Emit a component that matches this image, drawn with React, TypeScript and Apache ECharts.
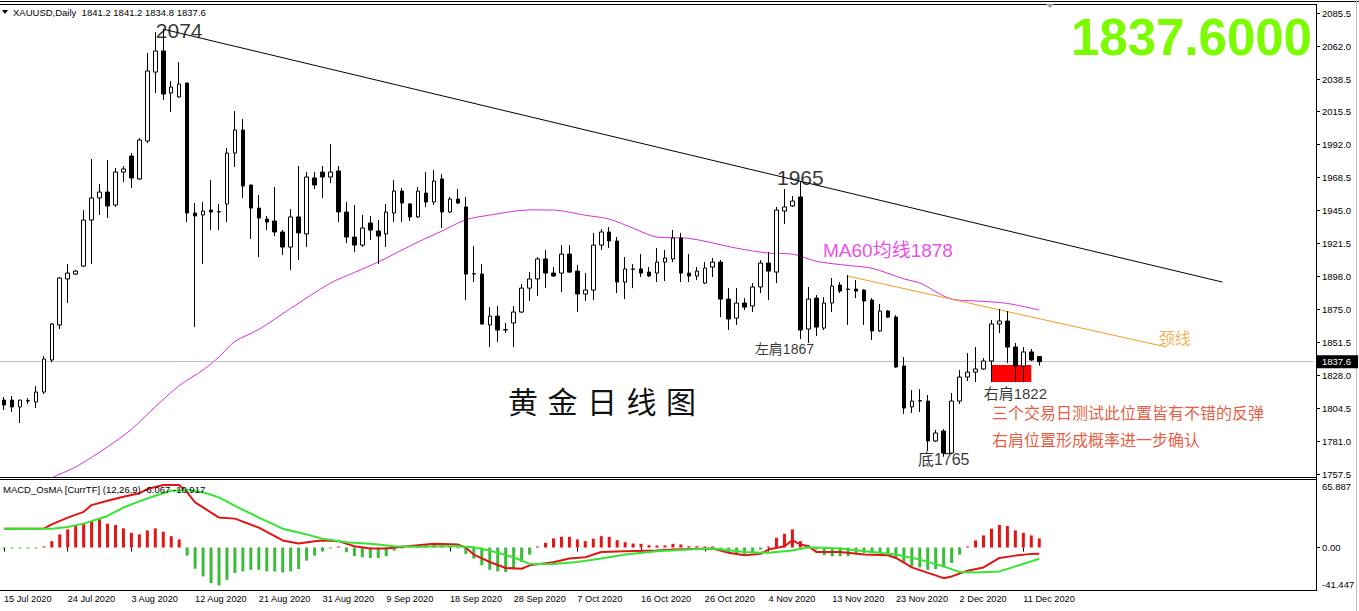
import React, { useEffect, useRef } from "react";
import * as echarts from "echarts";

// ---------- data ----------
const dateLabels = [
  "15 Jul 2020", "24 Jul 2020", "3 Aug 2020", "12 Aug 2020", "21 Aug 2020", "31 Aug 2020",
  "9 Sep 2020", "18 Sep 2020", "28 Sep 2020", "7 Oct 2020", "16 Oct 2020", "26 Oct 2020",
  "4 Nov 2020", "13 Nov 2020", "23 Nov 2020", "2 Dec 2020", "11 Dec 2020",
];
const BARS_PER_LABEL = 8;
const SLOT_COUNT = 165;

const priceTicks = [1757.5, 1781.0, 1804.5, 1828.0, 1851.5, 1875.0, 1898.0, 1921.5, 1945.0, 1968.5, 1992.0, 2015.5, 2038.5, 2062.0, 2085.5];
const priceMin = 1755.6;
const priceMax = 2091.2;

const macdMin = -41.447;
const macdMax = 65.887;
const macdLabelTexts = ["65.887", "0.00", "-41.447"];
const macdLabelAt = [59.1, 0, -35.6];

// [open, high, low, close]
const ohlc: number[][] = [
  [1810.3, 1812.4, 1803.2, 1806.8], [1810.3, 1813.2, 1801.8, 1805.4], [1805.4, 1810.5, 1794.0, 1810.3], [1809.6, 1811.7, 1807.5, 1809.9],
  [1808.9, 1820.3, 1804.6, 1816.0], [1816.0, 1841.6, 1814.6, 1839.5], [1838.8, 1865.1, 1837.3, 1864.4], [1863.7, 1897.8, 1860.8, 1897.1],
  [1896.4, 1907.0, 1879.3, 1900.6], [1899.9, 1902.8, 1899.2, 1902.0], [1905.6, 1945.4, 1905.0, 1938.3], [1938.3, 1981.7, 1907.0, 1954.0],
  [1954.0, 1963.9, 1941.9, 1958.2], [1958.2, 1981.0, 1939.7, 1948.3], [1949.0, 1975.3, 1947.6, 1972.4], [1972.4, 1976.7, 1965.3, 1974.6],
  [1983.8, 1985.9, 1961.1, 1968.2], [1967.5, 1996.6, 1966.7, 1995.2], [1994.5, 2057.1, 1993.1, 2044.3], [2043.5, 2072.0, 2028.6, 2058.5],
  [2058.5, 2074.0, 2023.6, 2027.9], [2028.6, 2037.1, 2015.1, 2032.9], [2025.8, 2050.6, 2025.1, 2035.0], [2035.7, 2036.0, 1936.9, 1943.3],
  [1943.3, 1950.4, 1862.2, 1941.2], [1941.9, 1951.1, 1907.0, 1944.7], [1945.4, 1966.7, 1931.2, 1944.0], [1944.0, 1949.7, 1931.2, 1944.3],
  [1949.7, 1989.5, 1936.9, 1985.9], [1985.9, 2015.8, 1976.0, 2002.3], [2002.3, 2010.1, 1953.9, 1962.5], [1963.2, 1963.5, 1924.8, 1946.8],
  [1946.8, 1956.1, 1912.0, 1939.7], [1939.0, 1941.2, 1931.2, 1936.9], [1937.6, 1961.8, 1926.9, 1929.8], [1929.8, 1931.2, 1913.4, 1919.1],
  [1919.1, 1946.1, 1902.8, 1940.5], [1940.5, 1976.7, 1909.9, 1929.1], [1928.4, 1972.4, 1919.1, 1968.9], [1968.2, 1972.4, 1960.4, 1963.2],
  [1972.4, 1976.7, 1953.9, 1968.9], [1968.9, 1992.3, 1964.6, 1972.4], [1973.2, 1976.7, 1936.9, 1944.0], [1944.0, 1951.1, 1921.9, 1926.2],
  [1926.2, 1949.0, 1915.5, 1920.5], [1920.5, 1941.9, 1919.1, 1932.6], [1936.2, 1941.2, 1924.1, 1931.2], [1930.5, 1938.3, 1907.0, 1926.9],
  [1928.4, 1949.7, 1919.1, 1944.0], [1943.3, 1966.7, 1936.9, 1958.9], [1958.9, 1961.1, 1936.9, 1950.4], [1949.7, 1950.4, 1937.6, 1940.5],
  [1940.5, 1961.8, 1939.7, 1958.9], [1957.5, 1972.4, 1947.6, 1951.1], [1951.1, 1973.9, 1949.0, 1966.0], [1967.5, 1971.0, 1932.6, 1944.0],
  [1944.0, 1954.7, 1943.3, 1953.2], [1953.2, 1960.4, 1949.7, 1950.4], [1947.6, 1954.7, 1881.4, 1899.9], [1899.9, 1919.8, 1894.2, 1900.2],
  [1899.9, 1907.0, 1863.7, 1864.4], [1863.7, 1876.4, 1848.0, 1870.0], [1870.0, 1877.2, 1851.6, 1860.1], [1860.1, 1865.1, 1857.9, 1860.4],
  [1865.1, 1877.2, 1848.0, 1872.9], [1872.9, 1892.8, 1872.2, 1889.9], [1889.9, 1901.3, 1880.7, 1896.4], [1896.4, 1912.0, 1884.3, 1910.6],
  [1910.6, 1917.0, 1889.9, 1900.6], [1900.6, 1904.9, 1897.8, 1898.5], [1900.6, 1920.5, 1887.1, 1914.1], [1914.1, 1920.5, 1900.6, 1901.3],
  [1902.0, 1906.3, 1872.9, 1885.7], [1885.7, 1900.6, 1880.7, 1888.5], [1888.5, 1929.1, 1881.4, 1920.5], [1920.5, 1931.9, 1917.0, 1929.8],
  [1929.8, 1933.3, 1918.4, 1923.4], [1923.4, 1926.2, 1886.4, 1894.2], [1894.2, 1912.0, 1882.1, 1903.5], [1903.5, 1907.0, 1889.9, 1903.3],
  [1903.5, 1914.1, 1897.8, 1900.6], [1901.3, 1904.9, 1897.8, 1898.5], [1900.6, 1918.4, 1894.2, 1908.4], [1908.4, 1917.0, 1894.9, 1911.3],
  [1910.6, 1931.2, 1908.4, 1925.5], [1925.5, 1929.1, 1894.2, 1900.6], [1900.6, 1914.1, 1894.2, 1898.5], [1898.5, 1904.9, 1895.6, 1902.0],
  [1893.5, 1908.4, 1893.0, 1904.2], [1904.9, 1911.3, 1897.8, 1908.4], [1908.4, 1909.9, 1869.3, 1882.1], [1882.1, 1889.9, 1860.1, 1867.9],
  [1868.6, 1889.9, 1863.7, 1879.3], [1879.3, 1882.8, 1874.3, 1876.4], [1877.2, 1893.5, 1872.9, 1890.7], [1890.7, 1909.9, 1886.4, 1907.7],
  [1907.7, 1915.5, 1881.4, 1902.0], [1901.3, 1947.6, 1893.5, 1945.4], [1944.7, 1960.4, 1935.5, 1947.6], [1948.3, 1955.4, 1947.6, 1951.8],
  [1954.7, 1966.0, 1853.7, 1860.1], [1860.8, 1890.7, 1850.9, 1882.1], [1882.8, 1885.0, 1855.8, 1862.2], [1861.5, 1883.5, 1860.1, 1879.3],
  [1879.3, 1897.1, 1872.9, 1891.4], [1892.1, 1894.2, 1886.4, 1887.8], [1889.2, 1899.2, 1863.7, 1889.0], [1889.2, 1895.6, 1882.8, 1887.8],
  [1888.5, 1889.2, 1863.7, 1880.7], [1881.4, 1882.8, 1853.0, 1859.4], [1859.4, 1878.6, 1858.7, 1873.6], [1873.6, 1874.3, 1868.6, 1869.3],
  [1869.3, 1870.7, 1833.1, 1833.8], [1834.5, 1840.9, 1800.4, 1804.6], [1805.4, 1817.4, 1801.1, 1809.6], [1809.6, 1818.1, 1801.8, 1809.9],
  [1809.6, 1813.9, 1774.1, 1781.2], [1781.2, 1789.0, 1780.5, 1786.9], [1788.3, 1789.7, 1770.0, 1772.6], [1772.6, 1815.3, 1771.9, 1809.6],
  [1809.6, 1831.7, 1807.5, 1826.7], [1826.7, 1843.7, 1823.8, 1830.2], [1830.2, 1848.0, 1823.1, 1832.4], [1832.4, 1840.2, 1831.7, 1838.1],
  [1838.1, 1867.2, 1823.1, 1864.4], [1864.4, 1875.0, 1857.9, 1866.5], [1866.5, 1873.6, 1836.6, 1848.0], [1848.0, 1850.9, 1823.1, 1834.5],
  [1834.5, 1848.0, 1823.1, 1844.5], [1844.5, 1846.6, 1838.1, 1838.8], [1841.2, 1841.2, 1834.8, 1837.6],
];

// MA60 read at sampled bars: [bar index, price]
const ma60 = [
  [5, 1751], [6, 1755], [9, 1762.7], [13, 1777], [16, 1789.5], [19, 1805.5], [22, 1820.5], [25, 1831.7], [27, 1841],
  [29, 1852], [32, 1860.5], [36, 1875.5], [41, 1893.5], [44, 1901], [47, 1908.5], [52, 1922.7], [55, 1930.5],
  [58, 1938.5], [61, 1941.8], [66, 1945.5], [69, 1945.4], [73, 1941.7], [76, 1939], [79, 1932.5], [82, 1926.2],
  [86, 1925.3], [92, 1918.3], [96, 1914.8], [99, 1914.1], [102, 1909], [106, 1906], [109, 1904], [113, 1896.5],
  [115, 1893.5], [119, 1882.1], [122, 1880.8], [126, 1879], [130, 1874.3],
];

const trendLine = [[20, 2074], [153, 1894.2]];
const neckLine = [[106, 1898.4], [146, 1848]];
const lastPrice = 1837.6;
const shoulderZone = { from: 124, to: 129, high: 1835.2, low: 1823.1 };

// MACD (red), signal (green): [bar index, value]
const macdLine = [
  [0, 18.4], [5, 18.4], [6, 22.6], [8, 29.2], [10, 34.8], [11, 41.4], [13, 45.6], [15, 49.5], [17, 52.9], [18, 57.1],
  [20, 61], [22, 61], [23, 53.9], [24, 44], [27, 29.2], [29, 28.2], [32, 19.4], [35, 6.9], [37, 3.9], [39, 6.2],
  [40, 6.9], [42, 6.2], [44, 1.3], [46, -1], [48, -1], [50, 0.7], [52, 2.3], [54, 3.6], [57, 3.0], [58, -0.3],
  [59, -6.9], [61, -14.1], [63, -20], [65, -20.7], [66, -17.4], [69, -14.4], [71, -10.8], [73, -9.5], [75, -4.3],
  [78, -3.6], [82, -3], [84, -2], [89, -1], [91, -5.2], [93, -7.5], [95, -6.2], [96, -2], [98, 1.3], [99, 7],
  [100, 3], [101, 1.3], [102, -4.3], [105, -4.3], [108, -6.9], [111, -7.5], [112, -10.2], [114, -19.4],
  [118, -29.9], [119, -28.2], [121, -22.6], [123, -19.4], [125, -10.2], [127, -7.9], [129, -6.2], [130, -6.1],
];
const signalLine = [
  [0, 18.4], [6, 18.4], [8, 20], [10, 23.3], [13, 30.8], [15, 39], [17, 45], [19, 50.5], [21, 55.4], [23, 56.1],
  [25, 53.9], [27, 48.9], [29, 40.7], [32, 29.2], [35, 18.4], [38, 12.8], [40, 8.6], [43, 5.2], [46, 3.6],
  [49, 1.3], [52, 0.7], [55, 1.3], [57, 1.3], [59, 0.3], [61, -3], [64, -9.5], [66, -16], [69, -16], [72, -14.1],
  [75, -10.8], [78, -6.9], [82, -3.6], [86, -2], [89, -1], [93, -4.3], [96, -5.2], [99, -3], [101, 0.3],
  [105, -1], [109, -4.3], [112, -6.9], [115, -11.8], [118, -18.4], [120, -24], [122, -24.3], [125, -23.3],
  [127, -18.4], [130, -10.9],
];
const osma = [
  -0.5, -0.5, -0.5, -0.5, -0.5, 0.5, 6.2, 12.8, 17.7, 21, 23.3, 25.9, 27.6, 23.3, 22, 18.7, 14.4, 12.8, 16.7, 18.7,
  15.4, 11.1, 7.9, -7.9, -20.7, -28.2, -34.8, -37.1, -31.5, -24.9, -23.3, -21.7, -21.7, -23.3, -23.3, -24.3, -23.3, -21, -12.8, -7.9,
  -3.6, -0.5, 0.3, -4.6, -8.5, -9.5, -10.2, -10.2, -8.5, -3, -0.5, 0.5, 1.5, 2.5, 2.5, 2, 1, -0.5, -6.2, -10.8,
  -17.4, -21.7, -23.3, -24, -20, -14.1, -6.9, 0.3, 4.6, 8.9, 10.5, 10.5, 7.9, 6.2, 8.6, 11.1, 10.5, 7.2, 5.2, 3.9,
  3.6, 2.3, 2, 2, 3.6, 3, 1.3, 1.3, 1, 1, -0.5, -4.3, -6.2, -6.2, -5.2, -2, 0.5, 9.5, 13.5, 17.7,
  6.2, 2.3, -2, -7.5, -8.5, -8.5, -8.5, -5.2, -5.2, -5.2, -5.2, -6.2, -10.2, -14.1, -18.4, -19.4, -21.7, -21, -19.4, -15.1,
  -6.9, 0.5, 6.9, 11.8, 18.4, 22, 21, 16.7, 14.4, 11.8, 8.9,
];

// annotations: [text, bar index, price]
const annotations: [string, number, number][] = [
  ["2074", 21.75, 2073.4],
  ["1965", 100, 1968.2],
  ["左肩1867", 97.9, 1846.6],
  ["MA60均线1878", 110.9, 1917.0],
  ["颈线", 146.9, 1854.4],
  ["底1765", 118.1, 1767.7],
  ["右肩1822", 127.1, 1815.3],
];
const notes: [string, number, number][] = [
  ["三个交易日测试此位置皆有不错的反弹", 124, 1800.4],
  ["右肩位置形成概率进一步确认", 124, 1781.9],
];

const SMALL = "'Liberation Sans', Arial, sans-serif";
const SANS = "'Liberation Sans', 'Noto Sans CJK SC', sans-serif";

const annStyle: Record<string, { size: number; color: string }> = {
  "2074": { size: 21, color: "#000" },
  "1965": { size: 21, color: "#000" },
  "左肩1867": { size: 14, color: "#000" },
  "MA60均线1878": { size: 19, color: "#e619e6" },
  "颈线": { size: 16, color: "#f0a030" },
  "底1765": { size: 16, color: "#000" },
  "右肩1822": { size: 15, color: "#000" },
};

export default function App() {
  const ref = useRef<HTMLDivElement>(null);

  useEffect(() => {
    if (!ref.current) return;
    const chart = echarts.init(ref.current, null, { renderer: "svg" });
    const categories = Array.from({ length: SLOT_COUNT }, (_, i) => String(i));
    const showTick = (i: number) => i % BARS_PER_LABEL === 0 && i / BARS_PER_LABEL < dateLabels.length;
    const clear = "rgba(0,0,0,0)";

    const option: any = {
      animation: false,
      backgroundColor: "#fff",
      grid: [
        { left: -6, top: 5, width: 1320, height: 472 },
        { left: -6, top: 480, width: 1320, height: 110 },
      ],
      xAxis: [
        {
          type: "category", gridIndex: 0, data: categories,
          axisLine: { show: false }, axisTick: { show: false }, axisLabel: { show: false }, splitLine: { show: false },
        },
        {
          type: "category", gridIndex: 1, data: categories,
          axisLine: { show: false },
          axisTick: { show: true, alignWithLabel: true, interval: (i: number) => showTick(i), length: 4, lineStyle: { color: "#000" } },
          axisLabel: {
            interval: (i: number) => showTick(i),
            formatter: (_v: string, i: number) => dateLabels[i / BARS_PER_LABEL] ?? "",
            align: "left", margin: 4, fontSize: 9.2, color: "#000", fontFamily: SMALL,
          },
          splitLine: { show: false },
        },
      ],
      yAxis: [
        {
          type: "value", gridIndex: 0, position: "right", offset: 2, min: priceMin, max: priceMax,
          splitLine: { show: false }, axisLine: { show: false },
          axisTick: { show: true, length: 4, customValues: priceTicks, lineStyle: { color: "#000" } },
          axisLabel: { customValues: priceTicks, formatter: (v: number) => v.toFixed(1), margin: 6, fontSize: 9.5, color: "#000", fontFamily: SMALL },
        },
        {
          type: "value", gridIndex: 1, position: "right", offset: 2, min: macdMin, max: macdMax,
          splitLine: { show: false }, axisLine: { show: false },
          axisTick: { show: true, length: 4, customValues: [0], lineStyle: { color: "#000" } },
          axisLabel: {
            customValues: macdLabelAt,
            formatter: (v: number) => {
              let best = 0;
              macdLabelAt.forEach((p, k) => { if (Math.abs(p - v) < Math.abs(macdLabelAt[best] - v)) best = k; });
              return macdLabelTexts[best];
            },
            margin: 6, fontSize: 9.5, color: "#000", fontFamily: SMALL,
          },
        },
      ],
      series: [
        {
          type: "line", xAxisIndex: 0, yAxisIndex: 0, z: 1, silent: true, symbol: "none",
          data: [[shoulderZone.from, shoulderZone.high], [shoulderZone.to, shoulderZone.low]],
          lineStyle: { opacity: 0 },
          markArea: {
            silent: true,
            itemStyle: { color: "#ff0000", opacity: 1 },
            data: [[{ coord: [shoulderZone.from, shoulderZone.high] }, { coord: [shoulderZone.to, shoulderZone.low] }]],
          },
          markLine: {
            silent: true, symbol: ["none", "none"],
            lineStyle: { color: "#c0c0c0", width: 1, type: "solid" },
            data: [{ yAxis: lastPrice }],
            label: {
              show: true, position: "end", distance: 3, formatter: lastPrice.toFixed(1),
              backgroundColor: "#000", color: "#fff", padding: [2, 7, 1, 5], fontSize: 9.5, fontFamily: SMALL,
            },
          },
        },
        {
          type: "line", xAxisIndex: 0, yAxisIndex: 0, z: 2, data: ma60, symbol: "none", smooth: 0.3,
          lineStyle: { color: "#d62fd6", width: 1 },
        },
        {
          type: "line", xAxisIndex: 0, yAxisIndex: 0, z: 2, data: trendLine, symbol: "none",
          lineStyle: { color: "#000", width: 1 },
        },
        {
          type: "line", xAxisIndex: 0, yAxisIndex: 0, z: 2, data: neckLine, symbol: "none",
          lineStyle: { color: "#f39c22", width: 1 },
        },
        {
          type: "candlestick", xAxisIndex: 0, yAxisIndex: 0, z: 5, barWidth: 4,
          data: ohlc.map(([o, h, l, c]) => [o, c, l, h]),
          itemStyle: { color: "#fff", color0: "#000", borderColor: "#000", borderColor0: "#000", borderWidth: 1 },
        },
        {
          type: "scatter", xAxisIndex: 0, yAxisIndex: 0, z: 6, symbolSize: 1, silent: true,
          itemStyle: { color: clear },
          data: annotations.map(([t, i, p]) => ({
            value: [i, p],
            label: {
              show: true, position: "inside", formatter: t,
              fontSize: annStyle[t].size, color: annStyle[t].color, fontFamily: SANS,
            },
          })),
        },
        {
          type: "scatter", xAxisIndex: 0, yAxisIndex: 0, z: 6, symbolSize: 1, silent: true,
          itemStyle: { color: clear },
          data: notes.map(([t, i, p]) => ({
            value: [i, p],
            label: { show: true, position: "right", distance: 0, formatter: t, fontSize: 16, color: "#e2300c", fontFamily: SANS },
          })),
        },
        {
          type: "bar", xAxisIndex: 1, yAxisIndex: 1, barWidth: 3, barMinHeight: 1,
          data: osma.map((v) => ({ value: v, itemStyle: { color: v >= 0 ? "#e81414" : "#3cba3c" } })),
        },
        {
          type: "line", xAxisIndex: 1, yAxisIndex: 1, data: macdLine, symbol: "none", z: 3,
          lineStyle: { color: "#e01515", width: 2 },
        },
        {
          type: "line", xAxisIndex: 1, yAxisIndex: 1, data: signalLine, symbol: "none", z: 3,
          lineStyle: { color: "#33e633", width: 2 },
        },
      ],
      graphic: [
        { type: "line", shape: { x1: 0, y1: 1.5, x2: 1359, y2: 1.5 }, style: { stroke: "#000", lineWidth: 1 } },
        { type: "line", shape: { x1: 0, y1: 4.5, x2: 1316.5, y2: 4.5 }, style: { stroke: "#000", lineWidth: 1 } },
        { type: "line", shape: { x1: 0, y1: 477.5, x2: 1316.5, y2: 477.5 }, style: { stroke: "#000", lineWidth: 1 } },
        { type: "line", shape: { x1: 0, y1: 479.5, x2: 1316.5, y2: 479.5 }, style: { stroke: "#000", lineWidth: 1 } },
        { type: "line", shape: { x1: 0, y1: 590.5, x2: 1316.5, y2: 590.5 }, style: { stroke: "#000", lineWidth: 1 } },
        { type: "line", shape: { x1: 1316.5, y1: 4, x2: 1316.5, y2: 591 }, style: { stroke: "#000", lineWidth: 1 } },
        { type: "line", shape: { x1: 1356.5, y1: 0, x2: 1356.5, y2: 611 }, style: { stroke: "#bdbdbd", lineWidth: 1 } },
        { type: "polygon", shape: { points: [[1046, 4], [1054, 4], [1050, 8]] }, style: { fill: "#a0a0a0" } },
        { type: "polygon", shape: { points: [[2, 10], [8, 10], [5, 14]] }, style: { fill: "#000" } },
        {
          type: "text", x: 13, y: 12,
          style: { text: "XAUUSD,Daily  1841.2 1841.2 1834.8 1837.6", fill: "#000", font: `9.5px ${SMALL}`, verticalAlign: "middle" },
        },
        {
          type: "text", x: 3, y: 489, z: 10,
          style: { text: "MACD_OsMA [CurrTF] (12,26,9) -6.067 -10.917", fill: "#000", font: `9.5px ${SMALL}`, verticalAlign: "middle" },
        },
        {
          type: "text", x: 1312, y: 37,
          style: { text: "1837.6000", fill: "#7cfc00", font: `bold 51px 'Liberation Sans', Arial, sans-serif`, align: "right", verticalAlign: "middle" },
        },
        {
          type: "text", x: 602, y: 402,
          style: { text: "黄 金 日 线 图", fill: "#111", font: `30px 'DejaVu Sans', 'Noto Sans CJK SC', sans-serif`, align: "center", verticalAlign: "middle" },
        },
      ],
    };

    chart.setOption(option);
    return () => chart.dispose();
  }, []);

  return (
    <div
      ref={ref}
      style={{ position: "fixed", left: 0, top: 0, width: 1359, height: 611, background: "#fff" }}
    />
  );
}
